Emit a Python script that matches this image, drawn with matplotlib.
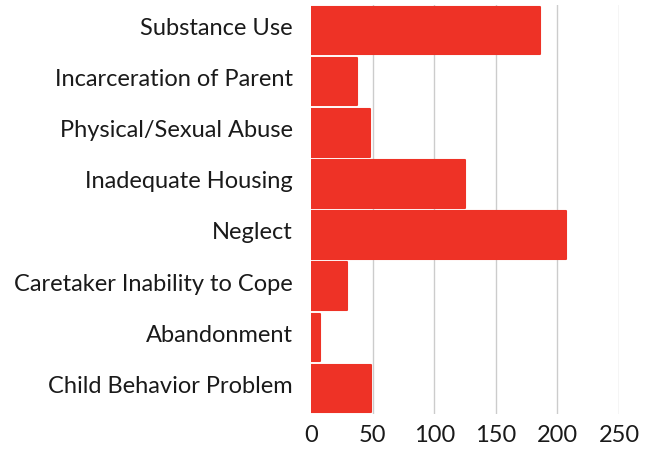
import matplotlib
matplotlib.use("Agg")
import matplotlib.pyplot as plt
import matplotlib.transforms as mtransforms

categories = ["Substance Use", "Incarceration of Parent", "Physical/Sexual Abuse",
              "Inadequate Housing", "Neglect", "Caretaker Inability to Cope",
              "Abandonment", "Child Behavior Problem"]
counts = [186, 37, 48, 125, 207, 29, 7, 49]
xticks = [0, 50, 100, 150, 200, 250]

plt.rcParams['font.family'] = ['Lato', 'DejaVu Sans']

fig = plt.figure(figsize=(6.55, 4.5), dpi=100)
ax = fig.add_axes([311 / 655, 1 - 414 / 450, (619 - 311) / 655, (414 - 5) / 450])

ypos = list(range(len(categories)))
bars = ax.barh(ypos, counts, height=0.93, color="#EE3226", edgecolor="#EE3226",
               linewidth=1.5, zorder=3)
for b in bars:
    b.set_joinstyle("round")

ax.set_ylim(len(categories) - 0.5, -0.5)
ax.set_xlim(0, 250)
ax.set_xticks(xticks)
ax.set_yticks(ypos)
ax.set_yticklabels(categories)
ax.tick_params(axis="y", length=0, pad=13, labelsize=17, labelcolor="#1a1a1a")
ax.tick_params(axis="x", length=0, pad=8, labelsize=17, labelcolor="#1a1a1a")

# labels sit a little above the bar centres in the original
shift = mtransforms.ScaledTranslation(0, 3 / 72, fig.dpi_scale_trans)
for lbl in ax.get_yticklabels():
    lbl.set_transform(lbl.get_transform() + shift)

# vertical gridlines, none at zero
ax.grid(axis="x", color="#cccccc", linewidth=1, zorder=0)
ax.xaxis.get_gridlines()[0].set_visible(False)
for s in ax.spines.values():
    s.set_visible(False)

fig.savefig("out.png", dpi=100)
